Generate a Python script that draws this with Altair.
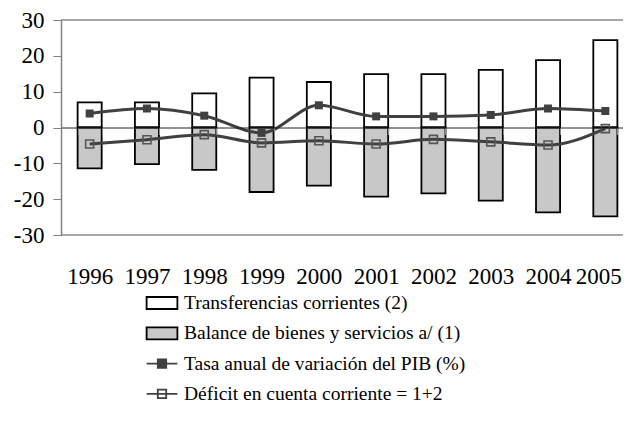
import altair as alt
import pandas as pd

years = ["1996", "1997", "1998", "1999", "2000", "2001", "2002", "2003", "2004", "2005"]
transferencias = [7.0, 7.0, 9.5, 13.9, 12.7, 14.9, 14.9, 16.1, 18.8, 24.4]
balance = [-11.4, -10.2, -11.8, -18.0, -16.2, -19.3, -18.4, -20.4, -23.7, -24.8]
pib = [3.9, 5.3, 3.3, -1.5, 6.2, 3.1, 3.1, 3.5, 5.3, 4.6]
deficit = [-4.6, -3.4, -2.0, -4.3, -3.7, -4.6, -3.3, -4.0, -4.9, -0.3]

names = [
    "Transferencias corrientes (2)",
    "Balance de bienes y servicios a/ (1)",
    "Tasa anual de variación del PIB (%)",
    "Déficit en cuenta corriente = 1+2",
]
series = [transferencias, balance, pib, deficit]

rows = []
for name, vals in zip(names, series):
    for yr, v in zip(years, vals):
        rows.append({"year": yr, "serie": name, "value": v})
df = pd.DataFrame(rows)

W, H = 562, 215
FULL_W = 573
FONT = "Liberation Serif, Times New Roman, DejaVu Serif, serif"
DARK = "#404040"
FRAME = "#a6a6a6"

x = alt.X(
    "year:N",
    sort=years,
    scale=alt.Scale(paddingInner=0.58, paddingOuter=0.29, range=[0, FULL_W]),
    axis=alt.Axis(
        title=None,
        orient="bottom",
        offset=-H / 2,
        domain=True,
        domainColor="#222222",
        domainWidth=1,
        ticks=True,
        tickBand="extent",
        tickSize=7,
        tickColor="#888888",
        tickWidth=1,
        labelFont=FONT,
        labelFontSize=23,
        labelColor="black",
        labelAngle=0,
        labelBaseline="alphabetic",
        labelPadding=149,
        labelOffset={"condition": {"test": "datum.value === '2005'", "value": -7}, "value": 0},
        zindex=1,
    ),
)

y_scale = alt.Scale(domain=[-30, 30], nice=False, zero=True)
y_axis = alt.Axis(
    title=None,
    values=[-30, -20, -10, 0, 10, 20, 30],
    labelExpr="'' + datum.value",
    grid=False,
    domainColor="#808080",
    domainWidth=1.5,
    tickColor="#808080",
    tickSize=8,
    tickWidth=1,
    labelFont=FONT,
    labelFontSize=23,
    labelColor="black",
    labelPadding=9,
    zindex=1,
)
y = alt.Y("value:Q", scale=y_scale, axis=y_axis)

base = alt.Chart(df)

bars_t = base.transform_filter(alt.datum.serie == names[0]).mark_bar(
    fill="white", stroke="black", strokeWidth=1.8
).encode(x=x, y=y)
bars_b = base.transform_filter(alt.datum.serie == names[1]).mark_bar(
    fill="#c8c8c8", stroke="black", strokeWidth=1.8
).encode(x=x, y=y)

frame_top = base.mark_rule(color=FRAME, strokeWidth=1.5).encode(
    y=alt.YDatum(30, type="quantitative", scale=y_scale, axis=y_axis)
)
frame_bottom = base.mark_rule(color=FRAME, strokeWidth=1.5).encode(
    y=alt.YDatum(-30, type="quantitative", scale=y_scale, axis=y_axis)
)

line_pib = base.transform_filter(alt.datum.serie == names[2]).mark_line(
    interpolate="monotone", stroke=DARK, strokeWidth=3
).encode(x=x, y=y)
line_def = base.transform_filter(alt.datum.serie == names[3]).mark_line(
    interpolate="monotone", stroke=DARK, strokeWidth=3
).encode(x=x, y=y)

pts_pib = base.transform_filter(alt.datum.serie == names[2]).mark_square(
    size=64, filled=True, color=DARK, opacity=1
).encode(x=x, y=y)
pts_def = base.transform_filter(alt.datum.serie == names[3]).mark_square(
    size=64, filled=False, stroke="#555555", strokeWidth=1.6, opacity=1
).encode(x=x, y=y)

paths = [
    "M-1.1,-0.43H1.1V0.43H-1.1Z",
    "M-1.1,-0.43H1.1V0.43H-1.1Z",
    "M-1.1,0H1.1M-0.3,-0.3H0.3V0.3H-0.3Z",
    "M-1.1,0H1.1M-0.3,-0.3H0.3V0.3H-0.3Z",
]
fills = ["white", "#c8c8c8", DARK, "transparent"]
strokes = ["black", "black", DARK, DARK]

leg = alt.Legend(
    title=None,
    orient="none",
    legendX=86,
    legendY=268,
    direction="vertical",
    labelFont=FONT,
    labelFontSize=19.5,
    labelColor="black",
    labelOffset=7,
    labelLimit=500,
    symbolSize=784,
    symbolStrokeWidth=1.8,
    rowPadding=5.3,
    padding=0,
)

legend_layer = base.transform_filter("false").mark_point(filled=True, opacity=1).encode(
    shape=alt.Shape("serie:N", scale=alt.Scale(domain=names, range=paths), legend=leg),
    fill=alt.Fill("serie:N", scale=alt.Scale(domain=names, range=fills), legend=leg),
    stroke=alt.Stroke("serie:N", scale=alt.Scale(domain=names, range=strokes), legend=leg),
)

chart = alt.layer(
    bars_t, bars_b, frame_top, frame_bottom, line_pib, line_def, pts_pib, pts_def, legend_layer
).properties(
    width=W,
    height=H,
    autosize=alt.AutoSizeParams(type="none"),
    padding={"left": 53, "top": 12, "right": 0, "bottom": 178},
).configure(font=FONT).configure_view(stroke=None).configure_axis(
    labelFont=FONT
).configure_legend(
    labelFont=FONT, labelFontSize=19.5, labelColor="black"
)

chart.save("out.html", embed_options={"renderer": "svg", "actions": False})
